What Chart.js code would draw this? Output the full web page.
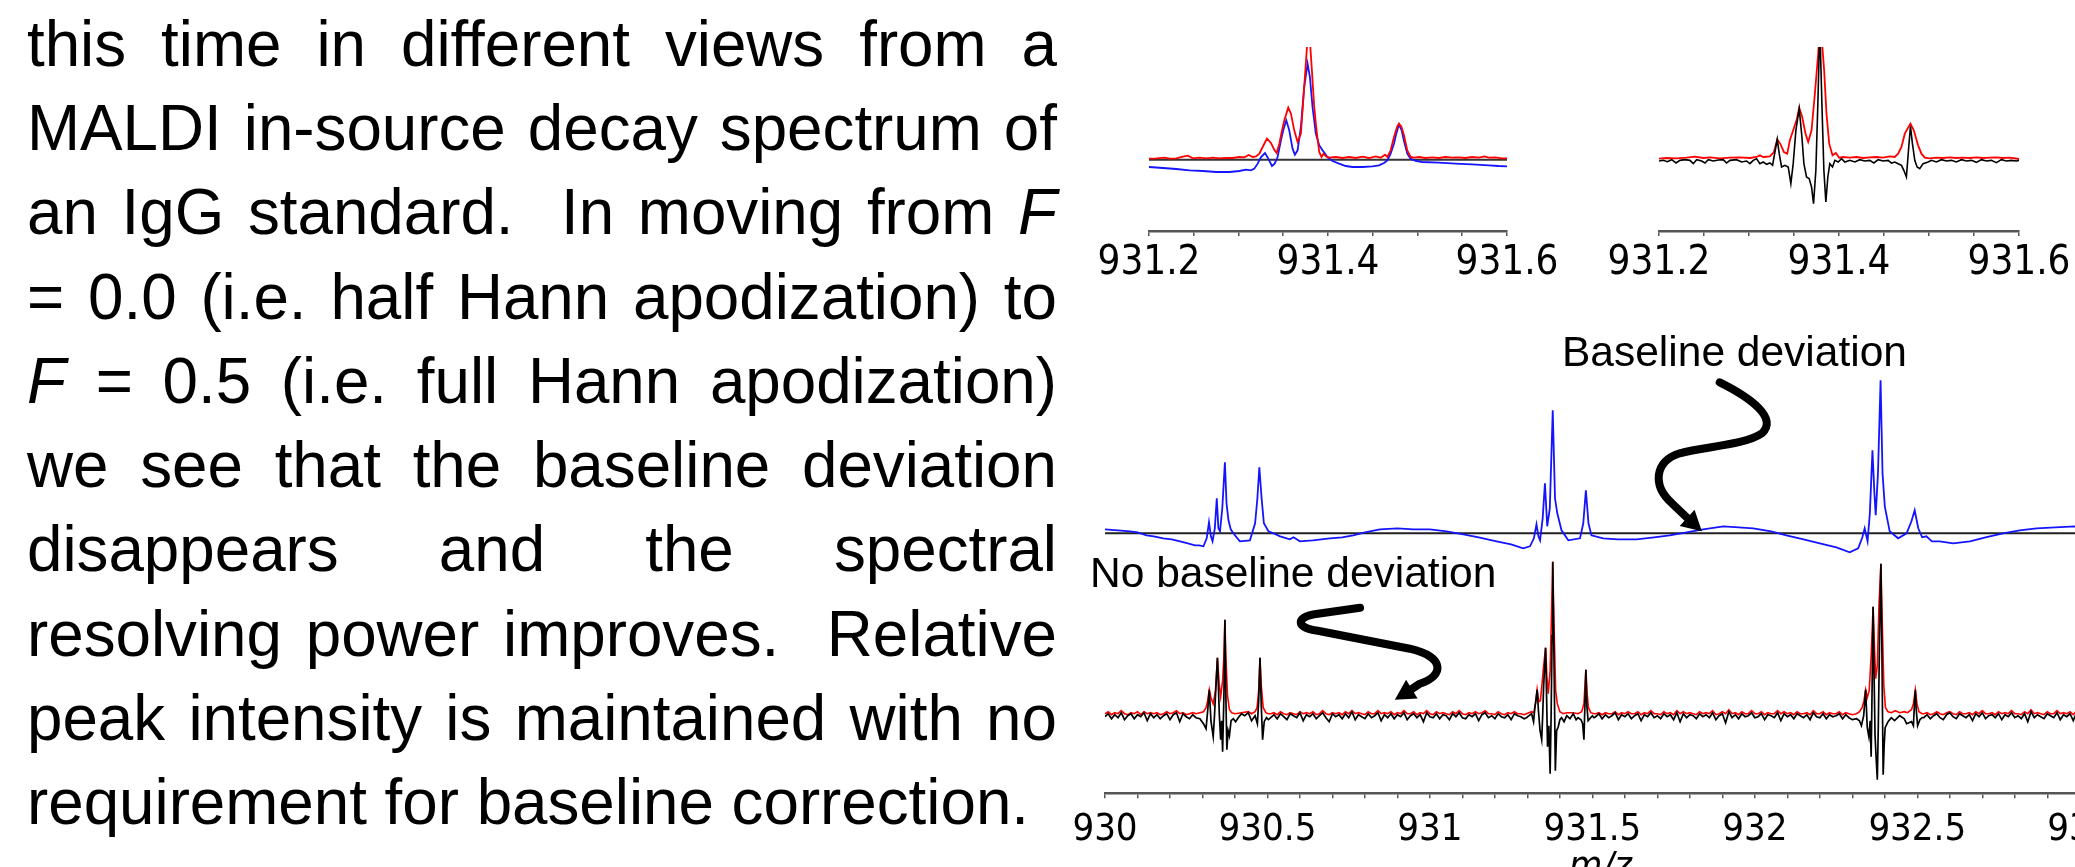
<!DOCTYPE html>
<html>
<head>
<meta charset="utf-8">
<title>Hann apodization – baseline deviation</title>
<script src="https://cdn.jsdelivr.net/npm/chart.js@4.4.1/dist/chart.umd.min.js"></script>
<style>
  html, body { margin: 0; padding: 0; background: #fff; }
  body { width: 2075px; height: 867px; overflow: hidden; position: relative; }
  canvas { position: absolute; }
  .para {
    position: absolute; left: 27px; top: 1.7px; width: 1051px;
    font-family: "Liberation Sans", Arial, sans-serif; font-size: 65px; line-height: 84.3px;
    color: #000; transform: scaleX(0.98); transform-origin: 0 0;
  }
  .para div { text-align: justify; text-align-last: justify; }
  .para div.last { text-align: left; text-align-last: left; }
  .note {
    position: absolute; white-space: nowrap; color: #000;
    font-family: "Liberation Sans", Arial, sans-serif; font-size: 42.5px; line-height: 42px;
  }
</style>
</head>
<body>

<div class="para">
  <div>this time in different views from a</div>
  <div>MALDI in-source decay spectrum of</div>
  <div>an IgG standard.&nbsp; In moving from <i>F</i></div>
  <div>= 0.0 (i.e. half Hann apodization) to</div>
  <div><i>F</i> = 0.5 (i.e. full Hann apodization)</div>
  <div>we see that the baseline deviation</div>
  <div>disappears and the spectral</div>
  <div>resolving power improves.&nbsp; Relative</div>
  <div>peak intensity is maintained with no</div>
  <div class="last">requirement for baseline correction.</div>
</div>

<canvas id="zoomHalf" width="478" height="244" style="left:1089px; top:47px"></canvas>
<canvas id="zoomFull" width="480" height="244" style="left:1599px; top:47px"></canvas>
<canvas id="wideHalf" width="1111" height="190" style="left:1045px; top:370px"></canvas>
<canvas id="wideFull" width="1111" height="351" style="left:1045px; top:540px"></canvas>

<div class="note" style="left:1562px; top:331px">Baseline deviation</div>
<div class="note" style="left:1090px; top:552px">No baseline deviation</div>

<script>
// ---- zoomed view 931.2–931.6, intensity in arbitrary units ----
// F = 0.0 (half Hann) : red magnitude, blue absorption
const zoomHalfRed = [
  [931.2000,3],[931.2082,4],[931.2175,6],[931.2230,3],[931.2305,4],[931.2379,9],[931.2435,12],[931.2490,4],
  [931.2565,6],[931.2639,4],[931.2713,6],[931.2787,4],[931.2862,5],[931.2936,5],[931.3010,8],[931.3066,7],
  [931.3114,14],[931.3159,8],[931.3196,10],[931.3233,18],[931.3270,38],[931.3318,63],[931.3363,50],[931.3400,30],
  [931.3426,20],[931.3456,48],[931.3486,88],[931.3512,118],[931.3556,156],[931.3586,138],[931.3623,88],[931.3660,53],
  [931.3697,78],[931.3734,218],[931.3760,318],[931.3779,400],[931.3798,358],[931.3820,268],[931.3846,158],[931.3872,88],
  [931.3902,23],[931.3928,8],[931.3950,18],[931.3976,10],[931.4013,6],[931.4087,8],[931.4162,5],[931.4236,8],
  [931.4310,5],[931.4384,9],[931.4459,5],[931.4533,10],[931.4589,6],[931.4637,15],[931.4663,8],[931.4700,28],
  [931.4737,68],[931.4774,100],[931.4793,108],[931.4819,100],[931.4849,73],[931.4886,28],[931.4923,8],[931.4960,6],
  [931.5016,8],[931.5090,5],[931.5164,7],[931.5239,5],[931.5313,8],[931.5387,6],[931.5461,7],[931.5536,5],
  [931.5610,8],[931.5684,6],[931.5751,10],[931.5796,6],[931.5870,7],[931.5944,4],[931.6000,4]
];
const zoomHalfBlue = [
  [931.2000,-22],[931.2156,-25],[931.2305,-28],[931.2453,-32],[931.2602,-34],[931.2750,-37],[931.2899,-37],[931.3010,-34],
  [931.3084,-30],[931.3140,-32],[931.3177,-27],[931.3214,-12],[931.3252,8],[931.3296,20],[931.3333,3],[931.3374,-19],
  [931.3404,-12],[931.3437,8],[931.3474,58],[931.3500,88],[931.3534,118],[931.3567,88],[931.3604,33],[931.3630,15],
  [931.3660,28],[931.3697,98],[931.3734,218],[931.3772,288],[931.3798,248],[931.3827,158],[931.3864,78],[931.3902,43],
  [931.3939,28],[931.3994,8],[931.4050,-4],[931.4124,-12],[931.4199,-19],[931.4273,-22],[931.4384,-22],[931.4496,-20],
  [931.4570,-17],[931.4626,-10],[931.4663,-2],[931.4700,18],[931.4737,48],[931.4763,78],[931.4793,106],[931.4823,88],
  [931.4849,56],[931.4886,18],[931.4923,3],[931.4979,-4],[931.5053,-7],[931.5239,-9],[931.5424,-12],[931.5610,-14],
  [931.5796,-17],[931.5907,-19],[931.6000,-20]
];
// F = 0.5 (full Hann) : red magnitude, black absorption
const zoomFullRed = [
  [931.2000,3],[931.2085,5],[931.2196,4],[931.2307,6],[931.2400,9],[931.2492,5],[931.2566,7],[931.2677,4],
  [931.2788,6],[931.2899,7],[931.3010,5],[931.3084,8],[931.3121,13],[931.3158,8],[931.3232,10],[931.3277,23],
  [931.3314,61],[931.3351,46],[931.3388,23],[931.3425,18],[931.3454,58],[931.3491,88],[931.3528,118],[931.3558,156],
  [931.3591,128],[931.3628,78],[931.3658,53],[931.3695,88],[931.3732,198],[931.3769,318],[931.3787,400],[931.3806,370],
  [931.3835,268],[931.3861,138],[931.3891,48],[931.3928,13],[931.3965,20],[931.4002,6],[931.4046,8],[931.4120,6],
  [931.4194,8],[931.4268,5],[931.4342,7],[931.4416,8],[931.4490,6],[931.4564,10],[931.4620,8],[931.4657,18],
  [931.4694,38],[931.4731,78],[931.4794,108],[931.4831,88],[931.4879,43],[931.4916,18],[931.4953,6],[931.5008,4],
  [931.5082,6],[931.5156,5],[931.5230,7],[931.5304,5],[931.5378,6],[931.5452,5],[931.5527,7],[931.5600,5],
  [931.5675,6],[931.5749,7],[931.5822,5],[931.5897,6],[931.6000,2]
];
const zoomFullBlack = [
  [931.2000,-4],[931.2048,-2],[931.2093,-6],[931.2141,0],[931.2189,-10],[931.2233,-2],[931.2289,0],[931.2344,-2],
  [931.2381,-12],[931.2418,0],[931.2474,-4],[931.2511,-10],[931.2548,0],[931.2603,-4],[931.2659,-1],[931.2714,0],
  [931.2751,-10],[931.2788,-2],[931.2862,0],[931.2918,-7],[931.2973,-4],[931.3010,-12],[931.3047,-2],[931.3084,3],
  [931.3121,-12],[931.3158,-7],[931.3195,-14],[931.3232,-10],[931.3262,-17],[931.3288,23],[931.3314,61],[931.3336,18],
  [931.3362,-22],[931.3399,-17],[931.3436,-22],[931.3465,-72],[931.3491,-12],[931.3521,88],[931.3558,153],[931.3588,68],
  [931.3610,-12],[931.3639,-52],[931.3669,-57],[931.3695,-82],[931.3717,-132],[931.3743,-32],[931.3765,168],[931.3787,400],
  [931.3810,168],[931.3832,-32],[931.3854,-127],[931.3876,-52],[931.3898,-12],[931.3928,-22],[931.3954,-2],[931.3991,-7],
  [931.4028,3],[931.4065,-7],[931.4120,-2],[931.4176,-7],[931.4231,0],[931.4287,-4],[931.4342,-2],[931.4387,-10],
  [931.4435,0],[931.4490,-4],[931.4546,-2],[931.4583,-10],[931.4620,-7],[931.4657,-12],[931.4694,-17],[931.4720,-32],
  [931.4749,-52],[931.4775,38],[931.4794,100],[931.4816,48],[931.4842,-2],[931.4868,-22],[931.4897,-27],[931.4934,-12],
  [931.4990,-7],[931.5027,-2],[931.5082,-7],[931.5138,0],[931.5193,-4],[931.5249,-2],[931.5304,-7],[931.5360,0],
  [931.5416,-4],[931.5471,-2],[931.5527,-8],[931.5582,0],[931.5638,-4],[931.5693,-2],[931.5749,-9],[931.5804,0],
  [931.5860,-4],[931.5915,-2],[931.5971,-4],[931.6000,-2]
];

// ---- wide view 930–933, intensity in arbitrary units ----
// F = 0.0 absorption trace (blue)
const wideHalfBlue = [
  [930.000,4],[930.040,3],[930.077,2],[930.100,1],[930.128,-2],[930.150,-3],[930.179,-5],[930.205,-6],
  [930.231,-8],[930.255,-10],[930.277,-12],[930.290,-12],[930.303,-13],[930.313,-5],
  [930.320,11],[930.326,-3],[930.331,-8],[930.338,5],[930.344,35],[930.349,5],[930.354,2],[930.361,25],
  [930.369,71],[930.374,30],[930.380,13],[930.387,4],[930.395,0],[930.415,-8],[930.446,-7],[930.462,10],
  [930.469,35],[930.475,66],[930.482,35],[930.489,10],[930.503,2],[930.518,0],[930.539,-3],[930.569,-6],
  [930.580,-4],[930.600,-8],[930.640,-7],[930.692,-5],[930.730,-4],[930.764,-2],[930.800,1],[930.846,4],
  [930.900,5],[930.949,4],[931.000,4],[931.051,2],[931.103,-1],[931.150,-4],
  [931.205,-8],[931.250,-11],[931.287,-15],[931.308,-13],[931.320,-5],[931.328,9],[931.334,-3],[931.339,-7],[931.347,15],
  [931.354,50],[931.361,7],[931.369,25],[931.378,123],[931.385,35],[931.392,20],[931.405,3],[931.426,-7],
  [931.462,-5],[931.472,10],[931.480,43],[931.488,10],[931.497,-2],[931.533,-5],[931.579,-6],[931.636,-6],
  [931.690,-4],[931.738,-2],[931.790,1],[931.841,4],[931.903,7],[931.950,6],[931.995,5],[932.050,2],[932.097,-2],
  [932.150,-6],[932.200,-10],[932.251,-14],[932.292,-19],
  [932.318,-15],[932.331,-4],[932.338,5],[932.347,-8],[932.354,20],[932.362,83],[932.368,40],[932.372,18],
  [932.379,60],[932.387,153],[932.393,60],[932.400,27],[932.415,2],[932.441,-5],[932.467,0],[932.482,12],
  [932.492,23],[932.503,5],[932.515,-4],[932.528,-3],[932.545,-8],[932.569,-8],[932.610,-10],[932.662,-8],
  [932.710,-4],[932.764,0],[932.815,3],[932.867,5],[932.925,6],[932.985,7],[933.050,6]
];

// F = 0.5: baseline noise sampled every 0.01 m/z between the isotope clusters
const NOISE_STEP = 0.01;
const blackNoiseA = [-1,2,-3,1,-2,3,-4,0,2,-3,1,-1,3,-5,2,-2,1,-3,0,2,-4,1,3,-6,2,-1,-3,1,-2];
const redNoiseA   = [2,4,1,3,2,5,2,1,3,2,4,1,4,2,3,2,3,1,2,4,2,3,5,2,3,1,2,3,2];
const blackNoiseB = [
  -2,1,-3,2,-1,-4,2,0,-2,3, -5,1,-1,2,-3,0,3,-2,-6,2, -1,1,-3,2,-2,4,-4,1,-1,-3,
  2,-2,0,3,-5,1,-2,2,-3,1, -1,3,-4,0,2,-2,1,-6,3,-1, -2,2,-3,1,0,-4,2,-1,3,-2,
  -3,1,-1,2,-5,1,3,-2,0,-3, 2,-1,-2,1,-4,2,0,-1,-3
];
const redNoiseB = [
  2,3,1,4,2,1,3,2,1,4, 2,3,2,4,1,2,5,2,1,3, 2,3,1,4,2,5,2,3,2,1,
  4,2,2,5,2,3,2,4,1,3, 2,5,2,2,4,1,3,2,5,2, 1,4,2,3,2,1,4,2,5,2,
  1,3,2,4,2,3,5,2,2,1, 4,2,1,3,2,4,2,2,1
];
const blackNoiseC = [
  -1,2,-3,1,-2,0,3,-4,1,-1, 2,-3,0,2,-5,1,-1,3,-2,0, -3,2,-1,1,-4,3,-6,2,-2,1,
  0,-3,2,-1,1,-2,3,-4,0,2, -7,4,-2,1,-3,2,-1,0,3,-2, -1,2,-4,1,0,-2,3,-5,2,-1,
  1,-3,2,0,-2,1,-4,3,-1,-2, 2,-3,1,-1,0,2,-3,1,-2,-4
];
const redNoiseC = [
  2,3,1,3,2,2,4,1,3,2, 4,2,2,4,1,3,2,5,2,2, 1,4,2,3,1,5,2,4,2,3,
  2,1,4,2,3,2,5,1,2,4, 2,6,2,3,1,4,2,2,5,2, 2,4,1,3,2,2,5,2,4,2,
  3,1,4,2,2,3,1,5,2,2, 4,1,3,2,2,4,1,3,2,1
];
const blackNoiseD = [
  -2,1,-3,0,2,-2,-4,1,3,-1, -3,2,0,-2,1,-5,2,-1,3,-3, 0,1,-2,2,-4,1,-1,3,-2,0,
  -3,2,-6,4,-2,1,-1,-3,2,0, -2,3,-4,1,-1,2,-5,3,-2,1, -3,0,2,-1,-2
];
const redNoiseD = [
  2,3,1,2,4,2,1,3,4,2, 1,4,2,2,3,1,4,2,5,2, 2,3,1,4,2,3,2,5,2,2,
  1,4,2,6,2,3,2,1,4,2, 2,5,2,3,2,4,1,5,2,3, 1,2,4,2,2
];

// isotope clusters, F = 0.5
const blackCluster1 = [
  [930.292,-3],[930.303,-8],[930.311,-13],[930.316,5],[930.321,26],[930.326,-5],[930.333,-21],[930.337,0],
  [930.340,20],[930.346,58],[930.352,0],[930.356,-24],[930.359,-5],[930.362,-36],[930.366,20],[930.369,96],
  [930.372,20],[930.375,-34],[930.379,-15],[930.383,-20],[930.388,-5],[930.395,-3],[930.402,-6],[930.410,-2],
  [930.420,2],[930.430,0],[930.441,3],[930.451,-5],[930.462,0],[930.469,-8],[930.473,15],[930.477,58],
  [930.481,10],[930.485,-24],[930.490,-6],[930.497,-2],[930.503,-4]
];
const redCluster1 = [
  [930.292,3],[930.303,4],[930.311,8],[930.316,15],[930.321,26],[930.326,18],[930.333,12],[930.340,25],
  [930.346,58],[930.352,30],[930.356,19],[930.362,35],[930.366,60],[930.369,96],[930.372,60],[930.377,20],
  [930.383,6],[930.390,3],[930.400,2],[930.420,3],[930.441,4],[930.451,2],[930.462,4],[930.468,8],
  [930.473,25],[930.477,58],[930.481,30],[930.487,8],[930.495,3],[930.503,2]
];
const blackCluster2 = [
  [931.297,-2],[931.313,2],[931.319,-6],[931.323,8],[931.326,15],[931.330,26],[931.334,5],[931.339,-15],
  [931.344,-24],[931.347,0],[931.350,30],[931.356,68],[931.359,20],[931.362,-31],[931.366,-10],[931.370,-58],
  [931.373,0],[931.376,80],[931.378,154],[931.381,80],[931.384,0],[931.386,-55],[931.390,-15],[931.395,-11],
  [931.400,-4],[931.405,-2],[931.413,-6],[931.421,0],[931.431,-3],[931.441,2],[931.450,-4],[931.456,-2],
  [931.465,-4],[931.470,-8],[931.474,-24],[931.477,10],[931.480,46],[931.483,10],[931.487,-5],[931.492,-3],
  [931.500,0],[931.505,-2]
];
const redCluster2 = [
  [931.297,2],[931.313,4],[931.320,3],[931.326,14],[931.330,26],[931.335,14],[931.340,15],[931.344,28],
  [931.350,50],[931.356,68],[931.360,40],[931.364,22],[931.370,45],[931.374,100],[931.378,154],[931.382,90],
  [931.387,25],[931.392,12],[931.400,4],[931.410,2],[931.421,3],[931.441,3],[931.456,2],[931.467,4],
  [931.474,12],[931.480,46],[931.484,22],[931.488,8],[931.495,3],[931.505,2]
];
const blackCluster3 = [
  [932.313,-3],[932.322,-5],[932.328,-10],[932.335,0],[932.341,26],[932.346,-12],[932.351,-21],[932.355,-5],
  [932.358,-41],[932.361,30],[932.364,109],[932.367,40],[932.370,-20],[932.373,-40],[932.377,-64],[932.380,-10],
  [932.384,80],[932.388,152],[932.391,70],[932.393,0],[932.395,-59],[932.398,-30],[932.401,-12],[932.410,-6],
  [932.420,-2],[932.430,-5],[932.446,0],[932.460,-3],[932.467,-8],[932.482,-6],[932.488,-10],[932.491,10],
  [932.494,26],[932.497,5],[932.501,-10],[932.508,-4],[932.515,-2]
];
const redCluster3 = [
  [932.313,2],[932.322,4],[932.330,8],[932.336,15],[932.341,26],[932.346,18],[932.352,25],[932.358,60],
  [932.364,109],[932.368,70],[932.372,37],[932.377,50],[932.382,110],[932.388,152],[932.392,95],[932.397,30],
  [932.402,8],[932.410,4],[932.420,3],[932.432,5],[932.446,3],[932.460,4],[932.470,3],[932.482,6],
  [932.488,12],[932.494,26],[932.499,12],[932.505,4],[932.515,2]
];

// callout arrows, in (m/z, intensity) of the chart they sit on
// each step is either [end] (straight) or [ctrl1, ctrl2, end] (cubic)
const deviationArrow = {
  start: [931.892, 151],
  steps: [
    [[931.991, 135], [932.071, 115], [932.022, 100]],
    [[931.969, 88], [931.846, 87], [931.769, 80]],
    [[931.692, 72], [931.683, 48], [931.745, 30]],
    [[931.800, 13]]
  ],
  tip: [931.837, 2]
};
const noDeviationArrow = {
  start: [930.785, 108],
  steps: [
    [[930.655, 102]],
    [[930.585, 99], [930.585, 88], [930.655, 85]],
    [[930.938, 67]],
    [[931.046, 59], [931.046, 40], [930.969, 32]],
    [[930.932, 24]]
  ],
  tip: [930.892, 16]
};

const TICK_FONT = '"DejaVu Sans Condensed", "DejaVu Sans", sans-serif';
const RED = '#ff0000', BLUE = '#1414ff', BLACK = '#000000';

function toPoints(pairs) {
  return pairs.map(([x, y]) => ({ x, y }));
}

function onGrid(start, values) {
  return values.map((y, i) => ({ x: Math.round((start + i * NOISE_STEP) * 1000) / 1000, y }));
}

function byMz(a, b) { return a.x - b.x; }

const wideFullBlack = [
  ...onGrid(930.00, blackNoiseA), ...toPoints(blackCluster1),
  ...onGrid(930.51, blackNoiseB), ...toPoints(blackCluster2),
  ...onGrid(931.51, blackNoiseC), ...toPoints(blackCluster3),
  ...onGrid(932.52, blackNoiseD)
].sort(byMz);

const wideFullRed = [
  ...onGrid(930.00, redNoiseA), ...toPoints(redCluster1),
  ...onGrid(930.51, redNoiseB), ...toPoints(redCluster2),
  ...onGrid(931.51, redNoiseC), ...toPoints(redCluster3),
  ...onGrid(932.52, redNoiseD)
].sort(byMz);

function trace(data, color, width) {
  return { data, borderColor: color, borderWidth: width, pointRadius: 0, fill: false, tension: 0 };
}

// thick hand-drawn style arrow with a filled head
function arrowPlugin(arrow) {
  return {
    id: 'callout',
    afterDatasetsDraw(chart) {
      const { ctx, scales: { x, y } } = chart;
      const px = p => [x.getPixelForValue(p[0]), y.getPixelForValue(p[1])];
      const [sx, sy] = px(arrow.start);
      const [tx, ty] = px(arrow.tip);
      let last = [sx, sy];

      ctx.save();
      ctx.strokeStyle = BLACK;
      ctx.fillStyle = BLACK;
      ctx.lineWidth = 8;
      ctx.lineCap = 'round';
      ctx.lineJoin = 'round';
      ctx.beginPath();
      ctx.moveTo(sx, sy);
      arrow.steps.forEach(step => {
        const pts = step.map(px);
        if (pts.length === 3) {
          ctx.bezierCurveTo(pts[0][0], pts[0][1], pts[1][0], pts[1][1], pts[2][0], pts[2][1]);
        } else {
          ctx.lineTo(pts[0][0], pts[0][1]);
        }
        last = pts[pts.length - 1];
      });
      const dx = tx - last[0], dy = ty - last[1];
      const len = Math.hypot(dx, dy) || 1;
      const ux = dx / len, uy = dy / len;
      const headLen = 20, headHalf = 11;
      const bx = tx - ux * headLen, by = ty - uy * headLen;
      ctx.lineTo(bx, by);
      ctx.stroke();

      ctx.beginPath();
      ctx.moveTo(tx, ty);
      ctx.lineTo(bx - uy * headHalf, by + ux * headHalf);
      ctx.lineTo(bx + uy * headHalf, by - ux * headHalf);
      ctx.closePath();
      ctx.fill();
      ctx.restore();
    }
  };
}

function mzAxis(opts) {
  return {
    type: 'linear',
    min: opts.min,
    max: opts.max,
    border: { display: true, color: '#555', width: 2.5 },
    grid: { display: true, drawOnChartArea: false, drawTicks: true, tickLength: 5, color: '#555', lineWidth: 1.5 },
    ticks: {
      stepSize: opts.step,
      includeBounds: false,
      autoSkip: false,
      maxRotation: 0,
      padding: opts.padding,
      color: BLACK,
      font: { family: TICK_FONT, size: opts.fontSize },
      callback: value => {
        const k = value / opts.labelEvery;
        return Math.abs(k - Math.round(k)) < 1e-6 ? String(Number(value.toFixed(1))) : '';
      }
    },
    title: opts.title ? {
      display: true,
      text: opts.title,
      color: BLACK,
      padding: { top: 0, bottom: 0 },
      font: { family: TICK_FONT, size: opts.fontSize, style: 'italic' }
    } : { display: false },
    afterFit: scale => { scale.height = opts.height; }
  };
}

function spectrumChart(id, cfg) {
  return new Chart(document.getElementById(id), {
    type: 'line',
    data: { datasets: cfg.datasets },
    options: {
      responsive: false,
      animation: false,
      events: [],
      parsing: false,
      layout: { padding: { left: 60, right: 60, top: cfg.padTop || 0, bottom: 0 } },
      plugins: { legend: { display: false }, tooltip: { enabled: false } },
      scales: {
        x: cfg.xAxis,
        y: { display: false, min: cfg.yMin, max: cfg.yMax }
      }
    },
    plugins: cfg.plugins || []
  });
}

const zeroLineZoom = [{ x: 931.2, y: 0 }, { x: 931.6, y: 0 }];
const zeroLineWide = [{ x: 930.0, y: 0 }, { x: 933.05, y: 0 }];

spectrumChart('zoomHalf', {
  yMin: -214, yMax: 338,
  xAxis: mzAxis({ min: 931.2, max: 931.6, step: 0.05, labelEvery: 0.2, fontSize: 40, padding: 4, height: 60 }),
  datasets: [
    trace(toPoints(zoomHalfRed), RED, 1.8),
    trace(toPoints(zoomHalfBlue), BLUE, 1.8),
    trace(zeroLineZoom, '#333', 2)
  ]
});

spectrumChart('zoomFull', {
  yMin: -214, yMax: 338,
  xAxis: mzAxis({ min: 931.2, max: 931.6, step: 0.05, labelEvery: 0.2, fontSize: 40, padding: 4, height: 60 }),
  datasets: [
    trace(toPoints(zoomFullBlack), BLACK, 1.6),
    trace(toPoints(zoomFullRed), RED, 1.8)
  ]
});

spectrumChart('wideHalf', {
  yMin: -26.7, yMax: 163.3,
  xAxis: { type: 'linear', display: false, min: 930.0, max: 933.05 },
  datasets: [
    trace(toPoints(wideHalfBlue), BLUE, 1.8),
    trace(zeroLineWide, '#222', 2)
  ],
  plugins: [arrowPlugin(deviationArrow)]
});

spectrumChart('wideFull', {
  padTop: 15,
  yMin: -77.6, yMax: 160.7,
  xAxis: mzAxis({ min: 930.0, max: 933.05, step: 0.1, labelEvery: 0.5, fontSize: 38, padding: 9, height: 97.7, title: 'm/z' }),
  datasets: [
    trace(wideFullBlack, BLACK, 1.7),
    trace(wideFullRed, RED, 1.6)
  ],
  plugins: [arrowPlugin(noDeviationArrow)]
});
</script>
</body>
</html>
